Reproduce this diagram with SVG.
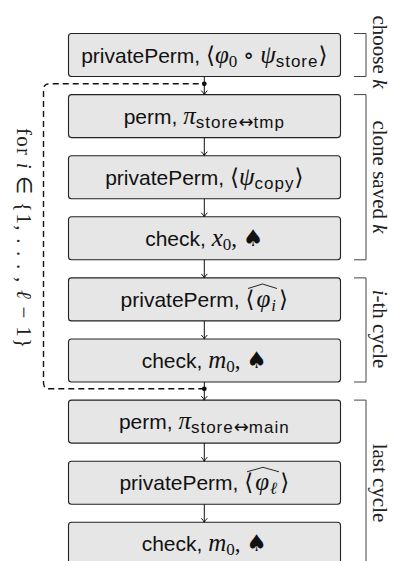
<svg xmlns="http://www.w3.org/2000/svg" width="394" height="561" viewBox="0 0 394 561">
  <defs>
    <style>
      .box { fill: #e6e6e6; stroke: #222; stroke-width: 1.1; }
      .t { font-family: "Liberation Sans", Arial, sans-serif; font-size: 21px; fill: #111; text-anchor: middle; }
      .mi { font-family: "Liberation Serif", "DejaVu Serif", serif; font-style: italic; font-size: 25px; }
      .mr { font-family: "Liberation Serif", "DejaVu Serif", serif; font-size: 23px; }
      .ang { font-family: "DejaVu Serif", serif; font-size: 23px; }
      .sub { font-family: "Liberation Sans", Arial, sans-serif; font-size: 17px; letter-spacing: 1px; }
      .subd { font-family: "Liberation Serif", serif; font-size: 17px; }
      .subi { font-family: "Liberation Serif", serif; font-style: italic; font-size: 17px; }
      .arr { font-family: "DejaVu Sans", sans-serif; font-size: 18px; }
      .spade { font-family: "DejaVu Sans", sans-serif; font-size: 23px; }
      .hat { fill: none; stroke: #111; stroke-width: 0.9; }
      .flow { fill: none; stroke: #111; stroke-width: 1; marker-end: url(#head); }
      .loop { fill: none; stroke: #111; stroke-width: 1.4; stroke-dasharray: 6 4; }
      .brace { fill: none; stroke: #444; stroke-width: 1; }
      .side { font-family: "Liberation Serif", "Times New Roman", serif; font-size: 21px; fill: #222; text-anchor: middle; }
    </style>
    <marker id="head" viewBox="-5 -4 6 8" refX="0" refY="0" markerWidth="6" markerHeight="8" markerUnits="userSpaceOnUse" orient="auto">
      <path d="M-4,-3 Q-1.5,-0.6 0,0 Q-1.5,0.6 -4,3" fill="none" stroke="#111" stroke-width="1"/>
    </marker>
  </defs>

  <!-- step boxes -->
  <g id="n1">
    <rect class="box" x="68.5" y="33.5" width="272" height="43" rx="3"/>
    <text class="t" x="204.3" y="62.5">privatePerm, <tspan class="ang">⟨</tspan><tspan class="mi">φ</tspan><tspan class="subd" dy="4">0</tspan><tspan class="mr" dy="-4"> ∘ </tspan><tspan class="mi">ψ</tspan><tspan class="sub" dy="4">store</tspan><tspan class="ang" dy="-4">⟩</tspan></text>
  </g>
  <g id="n2">
    <rect class="box" x="68.5" y="94.6" width="272" height="43" rx="3"/>
    <text class="t" x="204.3" y="123.6">perm, <tspan class="mi">π</tspan><tspan class="sub" dy="4">store</tspan><tspan class="arr">↔</tspan><tspan class="sub">tmp</tspan></text>
  </g>
  <g id="n3">
    <rect class="box" x="68.5" y="155.7" width="272" height="43" rx="3"/>
    <text class="t" x="204.3" y="184.7">privatePerm, <tspan class="ang">⟨</tspan><tspan class="mi">ψ</tspan><tspan class="sub" dy="4">copy</tspan><tspan class="ang" dy="-4">⟩</tspan></text>
  </g>
  <g id="n4">
    <rect class="box" x="68.5" y="216.8" width="272" height="43" rx="3"/>
    <text class="t" x="204.3" y="245.8">check, <tspan class="mi">x</tspan><tspan class="subd" dy="4">0</tspan><tspan class="mr" dy="-4">, </tspan><tspan class="spade">♠</tspan></text>
  </g>
  <g id="n5">
    <rect class="box" x="68.5" y="277.9" width="272" height="43" rx="3"/>
    <text class="t" x="204.3" y="306.9">privatePerm, <tspan class="ang">⟨</tspan><tspan class="mi" dx="2">φ</tspan><tspan class="subi" dx="1" dy="4">i</tspan><tspan class="ang" dx="3" dy="-4">⟩</tspan></text>
    <polyline class="hat" points="248,288.5 262.5,284 277,288.5"/>
  </g>
  <g id="n6">
    <rect class="box" x="68.5" y="339" width="272" height="43" rx="3"/>
    <text class="t" x="204.3" y="368">check, <tspan class="mi">m</tspan><tspan class="subd" dy="4">0</tspan><tspan class="mr" dy="-4">, </tspan><tspan class="spade">♠</tspan></text>
  </g>
  <g id="n7">
    <rect class="box" x="68.5" y="400.1" width="272" height="43" rx="3"/>
    <text class="t" x="204.3" y="429.1">perm, <tspan class="mi">π</tspan><tspan class="sub" dy="4">store</tspan><tspan class="arr">↔</tspan><tspan class="sub">main</tspan></text>
  </g>
  <g id="n8">
    <rect class="box" x="68.5" y="461.2" width="272" height="43" rx="3"/>
    <text class="t" x="204.3" y="490.2">privatePerm, <tspan class="ang">⟨</tspan><tspan class="mi" dx="2">φ</tspan><tspan class="subi" dx="1" dy="4">ℓ</tspan><tspan class="ang" dx="3" dy="-4">⟩</tspan></text>
    <polyline class="hat" points="247,471.8 263,467.3 279,471.8"/>
  </g>
  <g id="n9">
    <rect class="box" x="68.5" y="522.3" width="272" height="43" rx="3"/>
    <text class="t" x="204.3" y="551.3">check, <tspan class="mi">m</tspan><tspan class="subd" dy="4">0</tspan><tspan class="mr" dy="-4">, </tspan><tspan class="spade">♠</tspan></text>
  </g>

  <!-- connectors -->
  <g id="connectors">
    <path class="flow" d="M204.3,76.5 V94.6"/>
    <path class="flow" d="M204.3,137.6 V155.7"/>
    <path class="flow" d="M204.3,198.7 V216.8"/>
    <path class="flow" d="M204.3,259.8 V277.9"/>
    <path class="flow" d="M204.3,320.9 V339"/>
    <path class="flow" d="M204.3,382 V400.1"/>
    <path class="flow" d="M204.3,443.1 V461.2"/>
    <path class="flow" d="M204.3,504.2 V522.3"/>
    <!-- repeat loop -->
    <path class="loop" d="M204.3,388.8 H49.5 Q43.5,388.8 43.5,382.8 V89.8 Q43.5,83.8 49.5,83.8 H204.3"/>
    <circle cx="204.3" cy="83.8" r="2.4" fill="#111"/>
    <circle cx="204.3" cy="388.8" r="2.4" fill="#111"/>
  </g>

  <!-- phase brackets -->
  <g id="phases">
    <path class="brace" d="M354,33.5 H366 V76.5 H354"/>
    <path class="brace" d="M354,94.6 H366 V259.8 H354"/>
    <path class="brace" d="M354,277.9 H366 V382 H354"/>
    <path class="brace" d="M354,400.1 H366 V566"/>
    <text class="side" transform="translate(373,52) rotate(90)">choose <tspan font-style="italic">k</tspan></text>
    <text class="side" transform="translate(373,177) rotate(90)">clone saved <tspan font-style="italic">k</tspan></text>
    <text class="side" transform="translate(373,329) rotate(90)"><tspan font-style="italic">i</tspan>-th cycle</text>
    <text class="side" transform="translate(373,483) rotate(90)">last cycle</text>
  </g>

  <!-- loop range -->
  <text class="side" transform="translate(17,128) rotate(90)" font-size="22" style="text-anchor:start" textLength="220" lengthAdjust="spacing">for <tspan font-style="italic">i</tspan> ∈ {1, . . . , <tspan font-style="italic">ℓ</tspan> − 1}</text>
</svg>
